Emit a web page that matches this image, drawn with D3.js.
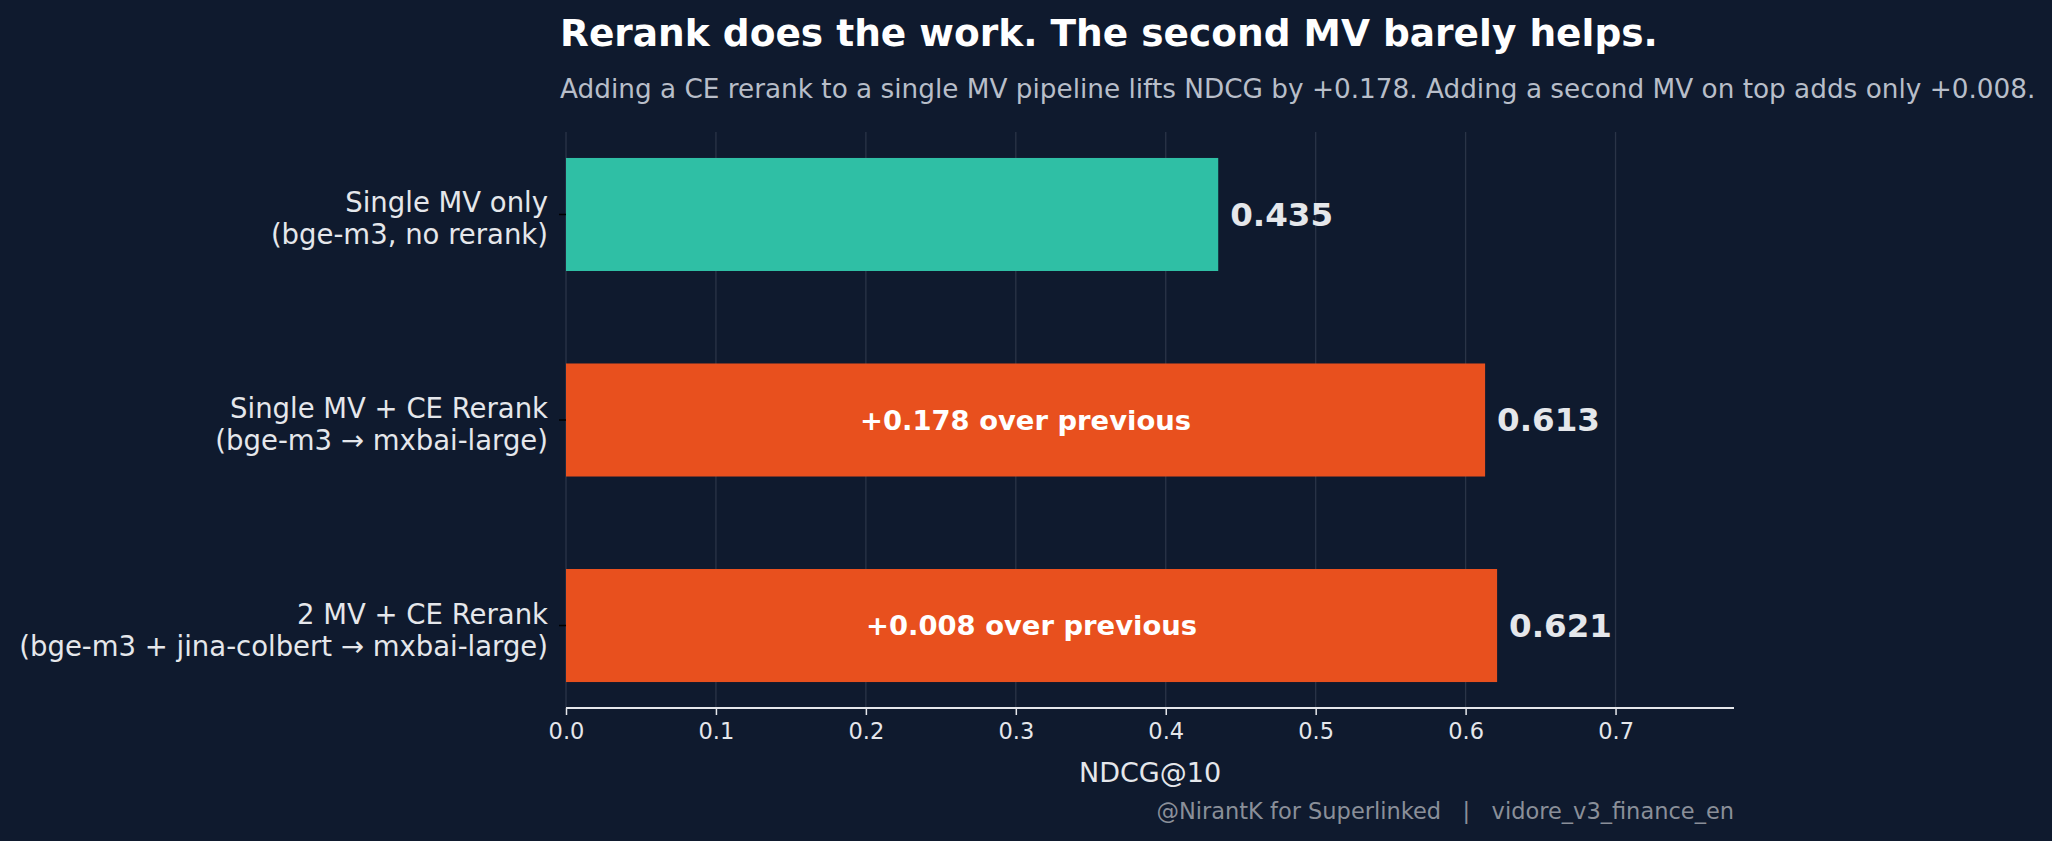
<!DOCTYPE html>
<html><head><meta charset="utf-8">
<script src="https://cdn.jsdelivr.net/npm/d3@7"></script>
<style>body{margin:0;background:#0f1a2e}svg{display:block}text{font-family:"DejaVu Sans",sans-serif}</style>
</head><body><svg id="c" width="2052" height="841"></svg>
<script>
const categories = ["Single MV only", "Single MV + CE Rerank", "2 MV + CE Rerank"];
const subLabels = ["(bge-m3, no rerank)", "(bge-m3 \u2192 mxbai-large)", "(bge-m3 + jina-colbert \u2192 mxbai-large)"];
const values = [0.435, 0.613, 0.621];
const deltaLabels = ["", "+0.178 over previous", "+0.008 over previous"];
const barColors = ["#2fbfa5", "#e8501e", "#e8501e"];
const xTicks = [0, 0.1, 0.2, 0.3, 0.4, 0.5, 0.6, 0.7];

const svg = d3.select("#c");
svg.append("rect").attr("width",2052).attr("height",841).attr("fill","#0f1a2e");
const L=566, R=1734, T=132, B=708;
const x = d3.scaleLinear().domain([0,0.779]).range([L,R]);
const y = d3.scaleBand().domain(d3.range(categories.length)).range([T,B]).paddingInner(0.45).paddingOuter(0.1263);

svg.append("g").selectAll("line").data(xTicks).join("line")
 .attr("x1",d=>x(d)).attr("x2",d=>x(d)).attr("y1",T).attr("y2",B)
 .attr("stroke","#2a3447").attr("stroke-width",1.3);

const ax = svg.append("g").attr("transform",`translate(0,${B})`)
 .call(d3.axisBottom(x).tickValues(xTicks).tickFormat(d3.format(".1f")).tickSize(7).tickPadding(8));
ax.select(".domain").attr("stroke","#e5e7eb").attr("stroke-width",2).attr("d",`M${L},0H${R}`);
ax.selectAll(".tick line").attr("stroke","#e5e7eb").attr("stroke-width",1.5);
ax.selectAll(".tick text").attr("fill","#e5e7eb").attr("font-size",22.5);

const g = svg.append("g");
g.selectAll("rect.bar").data(values).join("rect").attr("class","bar")
 .attr("x",x(0)).attr("y",(d,i)=>y(i)).attr("width",d=>x(d)-x(0)).attr("height",y.bandwidth())
 .attr("fill",(d,i)=>barColors[i]);
g.selectAll("text.val").data(values).join("text")
 .attr("x",d=>x(d)+12).attr("y",(d,i)=>y(i)+y.bandwidth()/2).attr("dy","0.35em")
 .attr("fill","#e5e7eb").attr("font-size",32.5).attr("font-weight","bold").text(d=>d.toFixed(3));
g.selectAll("text.delta").data(values).join("text")
 .attr("x",d=>x(d/2)).attr("y",(d,i)=>y(i)+y.bandwidth()/2).attr("dy","0.35em")
 .attr("text-anchor","middle").attr("fill","#ffffff").attr("font-size",27.4).attr("font-weight","bold")
 .text((d,i)=>deltaLabels[i]);
categories.forEach((c,i)=>{
  const cy = y(i)+y.bandwidth()/2;
  svg.append("line").attr("x1",L-7).attr("x2",L).attr("y1",cy).attr("y2",cy).attr("stroke","#000").attr("stroke-width",1.5);
  const t = svg.append("text").attr("text-anchor","end").attr("fill","#e5e7eb").attr("font-size",27.5);
  t.append("tspan").attr("x",548).attr("y",cy-2).text(c);
  t.append("tspan").attr("x",548).attr("y",cy+30).text(subLabels[i]);
});

svg.append("text").attr("x",(L+R)/2).attr("y",782).attr("text-anchor","middle").attr("fill","#e5e7eb").attr("font-size",27).text("NDCG@10");
svg.append("text").attr("x",R).attr("y",819).attr("text-anchor","end").attr("fill","#8a8f99").attr("font-size",22.5).attr("xml:space","preserve").text("@NirantK for Superlinked   |   vidore_v3_finance_en");
svg.append("text").attr("x",560).attr("y",46).attr("fill","#ffffff").attr("font-size",37.5).attr("font-weight","bold").text("Rerank does the work. The second MV barely helps.");
svg.append("text").attr("x",560).attr("y",98).attr("fill","#b8bec9").attr("font-size",26.3).text("Adding a CE rerank to a single MV pipeline lifts NDCG by +0.178. Adding a second MV on top adds only +0.008.");
</script></body></html>
